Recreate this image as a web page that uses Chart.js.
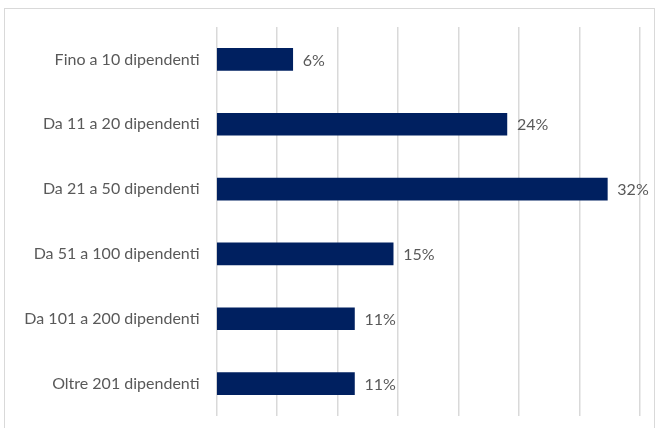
<!DOCTYPE html>
<html>
<head>
<meta charset="utf-8">
<script src="https://cdn.jsdelivr.net/npm/chart.js@4/dist/chart.umd.min.js"></script>
<style>
  html, body { margin: 0; padding: 0; background: #fff; }
  #wrap { position: relative; width: 658px; height: 428px; overflow: hidden; }
  #frame { position: absolute; left: 4px; top: 8px; width: 651px; height: 440px; border: 1px solid #d9d9d9; box-sizing: border-box; }
  #grafico { position: absolute; left: 0; top: 0; }
</style>
</head>
<body>
<div id="wrap">
  <div id="frame"></div>
  <canvas id="grafico" width="658" height="428"></canvas>
</div>
<script>
const categorie = [
    'Fino a 10 dipendenti',
    'Da 11 a 20 dipendenti',
    'Da 21 a 50 dipendenti',
    'Da 51 a 100 dipendenti',
    'Da 101 a 200 dipendenti',
    'Oltre 201 dipendenti'
];
const percentuali = [6.3, 24.0, 32.3, 14.6, 11.4, 11.4];
const etichette = ['6%', '24%', '32%', '15%', '11%', '11%'];

const fontTesto = "Lato, 'Noto Sans', sans-serif";
const grigioTesto = '#595959';

// etichette dei valori a destra delle barre
const etichetteBarre = {
    id: 'etichetteBarre',
    afterDatasetsDraw(chart) {
        const ctx = chart.ctx;
        const meta = chart.getDatasetMeta(0);
        ctx.save();
        ctx.font = '16px ' + fontTesto;
        ctx.fillStyle = grigioTesto;
        ctx.textAlign = 'left';
        ctx.textBaseline = 'middle';
        meta.data.forEach((barra, i) => {
            ctx.fillText(etichette[i], barra.x + 10, barra.y + 1);
        });
        ctx.restore();
    }
};

new Chart(document.getElementById('grafico'), {
    type: 'bar',
    data: {
        labels: categorie,
        datasets: [{
            data: percentuali,
            backgroundColor: '#002060',
            borderWidth: 0,
            barThickness: 22
        }]
    },
    options: {
        indexAxis: 'y',
        responsive: false,
        animation: false,
        layout: { padding: { top: 27, right: 18, bottom: 12, left: 0 } },
        plugins: {
            legend: { display: false },
            tooltip: { enabled: false }
        },
        scales: {
            x: {
                min: 0,
                max: 35,
                ticks: { display: false, stepSize: 5 },
                grid: { color: '#d9d9d9', lineWidth: 1.5, drawTicks: false },
                border: { display: false },
                afterFit(scale) { scale.height = 0; }
            },
            y: {
                ticks: {
                    color: grigioTesto,
                    font: { family: fontTesto, size: 16 },
                    padding: 17
                },
                grid: { display: false, drawTicks: false },
                border: { display: false },
                afterFit(scale) {
                    scale.width = 216.5;
                    scale.paddingTop = 0;
                    scale.paddingBottom = 0;
                }
            }
        }
    },
    plugins: [etichetteBarre]
});
</script>
</body>
</html>
